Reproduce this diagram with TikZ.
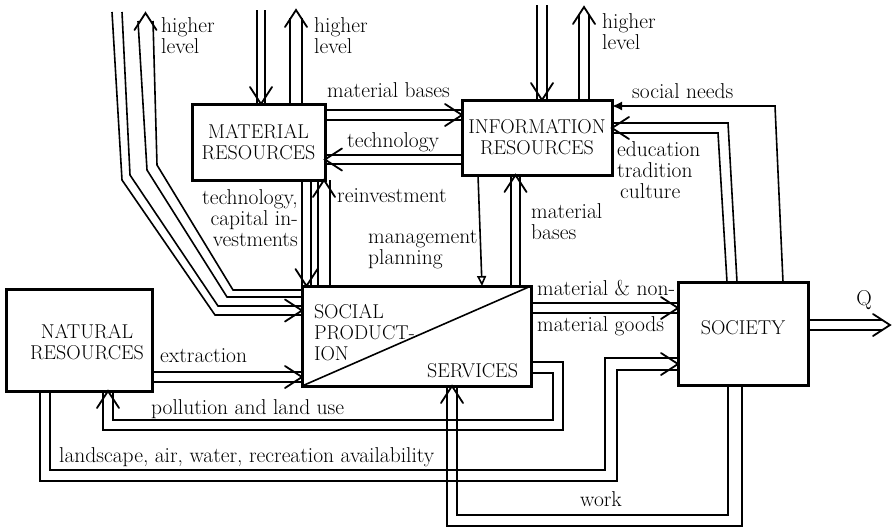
\documentclass[tikz,border=0pt]{standalone}
\usepackage{fontspec}
\usetikzlibrary{calc,arrows.meta}
\begin{document}
\begin{tikzpicture}[x=1pt,y=-1pt,
  bx/.style={draw,line width=3pt,outer sep=0pt,inner sep=1pt,align=center,font=\fontsize{20}{21}\selectfont\addfontfeature{LetterSpace=5}},
  lbl/.style={inner sep=0pt,font=\fontsize{21.5}{21}\selectfont\addfontfeature{LetterSpace=7}},
  fl/.style={line width=1.6pt},
  headline/.style={line width=1.8pt,line cap=round,line join=miter},
  sline/.style={line width=1.6pt},
  hup/.pic={\draw[headline] (-11,17) -- (0,0) -- (11,17);},
  hdown/.pic={\draw[headline] (-11,-17) -- (0,0) -- (11,-17);},
  hleft/.pic={\draw[headline] (17,-11) -- (0,0) -- (17,11);},
  hright/.pic={\draw[headline] (-17,-11) -- (0,0) -- (-17,11);}
]
\useasboundingbox (0,0) rectangle (893,528);

% boxes
\node[bx,minimum width=133pt,minimum height=76pt] (mat) at (258.5,142) {MATERIAL\\RESOURCES};
\node[bx,minimum width=150pt,minimum height=75pt] (inf) at (537,137.5) {INFORMATION\\RESOURCES};
\node[bx,minimum width=146pt,minimum height=102pt] (nat) at (79,340) {};
\node[bx,draw=none,inner sep=0pt] (nattxt) at (87,342) {NATURAL\\RESOURCES};
\node[bx,minimum width=229pt,minimum height=100pt] (sp) at (416.5,336) {};
\node[bx,minimum width=130pt,minimum height=103pt,text depth=12pt] (soc) at (743,333.5) {SOCIETY};
\draw[line width=1.6pt] (sp.south west) -- (sp.north east);
\node[bx,draw=none,anchor=north west,align=left,inner sep=0pt] (sptxt) at (314,304) {SOCIAL\\PRODUCT-\\ION};
\node[bx,draw=none,anchor=base east,inner sep=0pt] (svtxt) at (518,377) {SERVICES};

% top-left inputs / outputs to social production
\draw[fl] (112,12) -- (122,180) -- (215,315) -- ($(sp.north west)+(0,29)$);
\draw[fl] (122,12) -- (130,175) -- (218,306) -- ($(sp.north west)+(0,20)$);
\pic at ($(sp.north west)+(0,24.5)$) {hright};
\draw[fl] (138,21) -- (147,170) -- (227,297) -- ($(sp.north west)+(0,11)$);
\draw[fl] (153,21) -- (157,165) -- (233,290) -- ($(sp.north west)+(0,4)$);
\pic at (145.5,13) {hup};
\node[lbl,anchor=west,align=left] (hl1) at (161,36) {higher\\level};

% material resources top
\draw[fl] (257,10) -- ($(mat.north west)+(65,0)$);
\draw[fl] (265,10) -- ($(mat.north west)+(73,0)$);
\pic at ($(mat.north west)+(69,0)$) {hdown};
\draw[fl] ($(mat.north west)+(98,0)$) -- (290,18);
\draw[fl] ($(mat.north west)+(110,0)$) -- (302,18);
\pic at (296,10) {hup};
\node[lbl,anchor=west,align=left] (hl2) at (314,36) {higher\\level};

% information resources top
\draw[fl] (537,5) -- ($(inf.north west)+(75,0)$);
\draw[fl] (547,5) -- ($(inf.north west)+(85,0)$);
\pic at ($(inf.north west)+(80,0)$) {hdown};
\draw[fl] ($(inf.north west)+(117,0)$) -- (579,14);
\draw[fl] ($(inf.north west)+(127,0)$) -- (589,14);
\pic at (584,7) {hup};
\node[lbl,anchor=west,align=left] (hl3) at (602,32) {higher\\level};

% material bases: mat -> inf
\draw[fl] ($(mat.north east)+(0,6)$) -- ($(inf.north west)+(0,10)$);
\draw[fl] ($(mat.north east)+(0,16)$) -- ($(inf.north west)+(0,20)$);
\pic at ($(inf.north west)+(0,15)$) {hright};
\node[lbl,anchor=west] (lmb) at (327,90) {material bases};

% technology: inf -> mat
\draw[fl] ($(inf.north west)+(0,55)$) -- ($(mat.north east)+(0,51)$);
\draw[fl] ($(inf.north west)+(0,64)$) -- ($(mat.north east)+(0,60)$);
\pic at ($(mat.north east)+(0,55.5)$) {hleft};
\node[lbl,anchor=west] (ltech) at (347,142) {technology};

% mat -> sp (technology, capital investments)
\draw[fl] ($(mat.south west)+(110,0)$) -- ($(sp.north west)+(0,0)$);
\draw[fl] ($(mat.south west)+(119,0)$) -- ($(sp.north west)+(9,0)$);
\pic at ($(sp.north west)+(4.5,0)$) {hdown};
\node[lbl,anchor=east,align=right] (ltc) at (298,218) {technology,\\capital in-\\vestments};

% sp -> mat (reinvestment)
\draw[fl] ($(sp.north west)+(16,0)$) -- ($(mat.south west)+(126,0)$);
\draw[fl] ($(sp.north west)+(28,0)$) -- ($(mat.south west)+(138,0)$);
\pic at ($(mat.south west)+(132,0)$) {hup};
\node[lbl,anchor=west] (lre) at (337,196) {reinvestment};

% management planning: inf -> sp
\draw[sline,-{Triangle[open,length=10pt,width=9pt]}] ($(inf.south west)+(16,0)$) -- ($(sp.north west)+(180,0)$);
\node[lbl,anchor=west,align=left] (lmp) at (368,250) {management\\planning};

% material bases: sp -> inf
\draw[fl] ($(sp.north west)+(209,0)$) -- ($(inf.south west)+(49,0)$);
\draw[fl] ($(sp.north west)+(218,0)$) -- ($(inf.south west)+(58,0)$);
\pic at ($(inf.south west)+(53.5,0)$) {hup};
\node[lbl,anchor=west,align=left] (lmb2) at (531,222) {material\\bases};

% social needs: soc -> inf
\draw[sline,-{Latex[length=10pt,width=9pt]}] ($(soc.north west)+(105,0)$) -- (775,106) -- ($(inf.north east)+(0,6)$);
\node[lbl,anchor=west] (lsn) at (632,91) {social needs};

% education tradition culture: soc -> inf
\draw[fl] ($(soc.north west)+(59,0)$) -- (728,123) -- ($(inf.north east)+(0,23)$);
\draw[fl] ($(soc.north west)+(49,0)$) -- (718,133) -- ($(inf.north east)+(0,33)$);
\pic at ($(inf.north east)+(0,28)$) {hleft};
\node[lbl,anchor=west,align=left] (ledu) at (617,170) {education\\tradition\\\hspace*{3pt}culture};

% goods: sp -> soc
\draw[fl] ($(sp.north east)+(0,17)$) -- ($(soc.north west)+(0,21)$);
\draw[fl] ($(sp.north east)+(0,27)$) -- ($(soc.north west)+(0,31)$);
\pic at ($(soc.north west)+(0,26)$) {hright};
\node[lbl,anchor=west] (lg1) at (537,288) {material \& non-};
\node[lbl,anchor=west] (lg2) at (537,326) {material goods};

% Q
\coordinate (qend) at (890,325);
\draw[fl] ($(soc.north east)+(0,38)$) -- ($(qend)+(-7,-5)$);
\draw[fl] ($(soc.north east)+(0,48)$) -- ($(qend)+(-7,5)$);
\pic at (qend) {hright};
\node[lbl] (lq) at (864,300) {Q};

% extraction: nat -> sp
\draw[fl] ($(nat.north east)+(0,83)$) -- ($(sp.north west)+(0,86)$);
\draw[fl] ($(nat.north east)+(0,93)$) -- ($(sp.north west)+(0,96)$);
\pic at ($(sp.north west)+(0,91)$) {hright};
\node[lbl,anchor=west] (lex) at (160,356) {extraction};

% pollution and land use: sp -> nat
\draw[fl] ($(sp.north east)+(0,76)$) -- (563,362) -- (563,430) -- (103,430) -- ($(nat.south west)+(97,0)$);
\draw[fl] ($(sp.north east)+(0,87)$) -- (553,373) -- (553,420) -- (113,420) -- ($(nat.south west)+(107,0)$);
\pic at ($(nat.south west)+(102,0)$) {hup};
\node[lbl,anchor=west] (lpol) at (151,409) {pollution and land use};

% landscape ...: nat -> soc
\draw[fl] ($(nat.south west)+(44,0)$) -- (50,470) -- (605,470) -- (605,358) -- ($(soc.north west)+(0,76)$);
\draw[fl] ($(nat.south west)+(34,0)$) -- (40,481) -- (617,481) -- (617,370) -- ($(soc.north west)+(0,88)$);
\pic at ($(soc.north west)+(0,82)$) {hright};
\node[lbl,anchor=west] (lland) at (59,457) {landscape, air, water, recreation availability};

% work: soc -> sp
\draw[fl] ($(soc.south west)+(50,0)$) -- (728,515) -- (457,515) -- ($(sp.south west)+(155,0)$);
\draw[fl] ($(soc.south west)+(64,0)$) -- (742,526) -- (447,526) -- ($(sp.south west)+(145,0)$);
\pic at ($(sp.south west)+(150,0)$) {hup};
\node[lbl,anchor=west] (lwork) at (580,499) {work};
\end{tikzpicture}
\end{document}
